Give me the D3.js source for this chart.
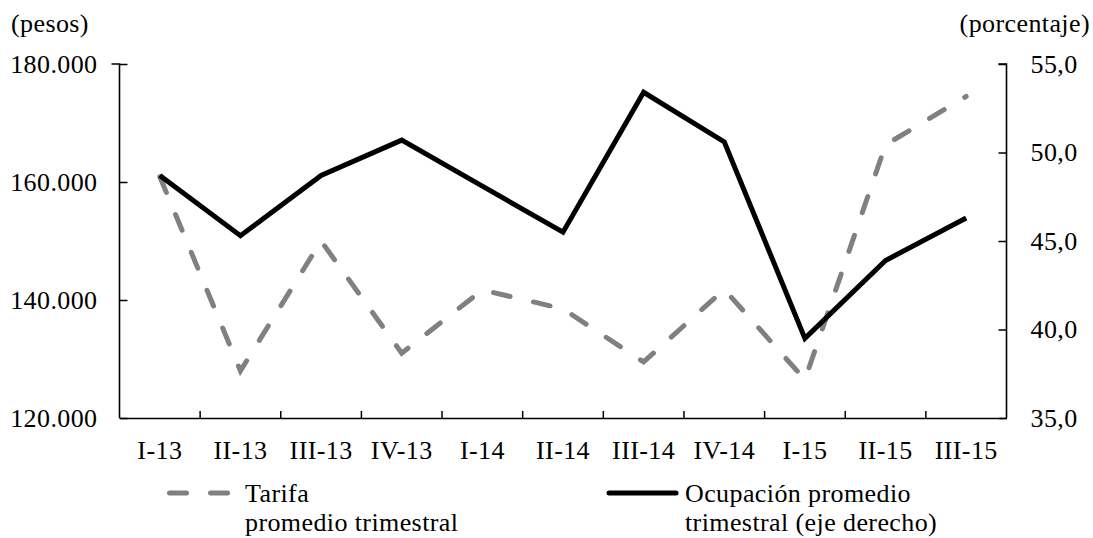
<html>
<head>
<script src="https://d3js.org/d3.v7.min.js"></script>
<style>
    body { margin: 0; background: #fff; }
    text { font-family: "Liberation Serif", "Times New Roman", serif; font-size: 26px; letter-spacing: 0.4px; fill: #000; }
</style>
</head>
<body>
<div id="chart"></div>
<script>
// quarters
const quarters = ["I-13", "II-13", "III-13", "IV-13", "I-14", "II-14", "III-14", "IV-14", "I-15", "II-15", "III-15"];
// average quarterly rate (pesos), left axis
const tarifa = [160900, 128000, 150000, 131000, 141700, 138500, 129500, 141800, 126500, 166300, 174500];
// average quarterly occupancy (%), right axis
const ocupacion = [48.7, 45.3, 48.7, 50.7, 48.1, 45.5, 53.4, 50.6, 39.5, 43.9, 46.3];
const leftTicks = [120000, 140000, 160000, 180000];
const rightTicks = [35, 40, 45, 50, 55];

const width = 1093, height = 538;
const svg = d3.select('#chart').append('svg')
    .attr('width', width)
    .attr('height', height);

const x = d3.scaleBand().domain(quarters).range([119.5, 1006.5]);
const yL = d3.scaleLinear().domain([120000, 180000]).range([418, 64]);
const yR = d3.scaleLinear().domain([35, 55]).range([418, 64]);

const fmtL = d => d3.format(',')(d).replace(/,/g, '.');
const fmtR = d => d3.format('.1f')(d).replace('.', ',');

// left axis
const axL = svg.append('g').attr('transform', 'translate(119.5,0)')
    .call(d3.axisLeft(yL).tickValues(leftTicks).tickSize(-8).tickPadding(22).tickFormat(fmtL));
// right axis
const axR = svg.append('g').attr('transform', 'translate(1006.5,0)')
    .call(d3.axisRight(yR).tickValues(rightTicks).tickSize(-8).tickPadding(24).tickFormat(fmtR));
// bottom axis: ticks at band boundaries
const axB = svg.append('g').attr('transform', 'translate(0,418)')
    .call(d3.axisBottom(x).tickSize(0).tickPadding(28));
axB.selectAll('.tick text').attr('dy', '0.5em');
axB.selectAll('.sep')
    .data(quarters.slice(1))
    .enter().append('line')
    .attr('x1', d => x(d)).attr('x2', d => x(d))
    .attr('y1', 0).attr('y2', -7)
    .attr('stroke', '#000').attr('stroke-width', 1.5);

[axL, axR, axB].forEach(g => {
    g.select('.domain').attr('stroke', '#000').attr('stroke-width', 1.6);
    g.selectAll('.tick line').attr('stroke', '#000').attr('stroke-width', 1.5);
    g.selectAll('.tick text').style('font-family', '"Liberation Serif", serif').style('font-size', '26px').attr('fill', '#000');
});
axL.select('.domain').attr('d', 'M-8,64H0V418');
axR.select('.domain').attr('d', 'M-8,64H0V418');

const cx = d => x(d) + x.bandwidth() / 2;

// tarifa (dashed grey)
svg.append('path')
    .datum(quarters.map((q, i) => [q, tarifa[i]]))
    .attr('fill', 'none')
    .attr('stroke', '#808080')
    .attr('stroke-width', 5)
    .attr('stroke-dasharray', '17,24')
    .attr('stroke-linecap', 'round')
    .attr('d', d3.line().x(d => cx(d[0])).y(d => yL(d[1])));

// ocupacion (solid black)
svg.append('path')
    .datum(quarters.map((q, i) => [q, ocupacion[i]]))
    .attr('fill', 'none')
    .attr('stroke', '#000')
    .attr('stroke-width', 5)
    .attr('stroke-linejoin', 'miter')
    .attr('d', d3.line().x(d => cx(d[0])).y(d => yR(d[1])));

// axis titles
svg.append('text').attr('x', 11).attr('y', 32).text('(pesos)');
svg.append('text').attr('x', 1090).attr('y', 32).attr('text-anchor', 'end').text('(porcentaje)');

// legend
const legend = svg.append('g');
legend.append('line')
    .attr('x1', 169.5).attr('x2', 230).attr('y1', 493).attr('y2', 493)
    .attr('stroke', '#808080').attr('stroke-width', 5)
    .attr('stroke-dasharray', '17,24').attr('stroke-linecap', 'round');
legend.append('text').attr('x', 245).attr('y', 502).text('Tarifa');
legend.append('text').attr('x', 245).attr('y', 531).text('promedio trimestral');

legend.append('line')
    .attr('x1', 609).attr('x2', 676).attr('y1', 493).attr('y2', 493)
    .attr('stroke', '#000').attr('stroke-width', 5).attr('stroke-linecap', 'round');
legend.append('text').attr('x', 685).attr('y', 502).text('Ocupación promedio');
legend.append('text').attr('x', 685).attr('y', 531).text('trimestral (eje derecho)');
</script>
</body>
</html>
